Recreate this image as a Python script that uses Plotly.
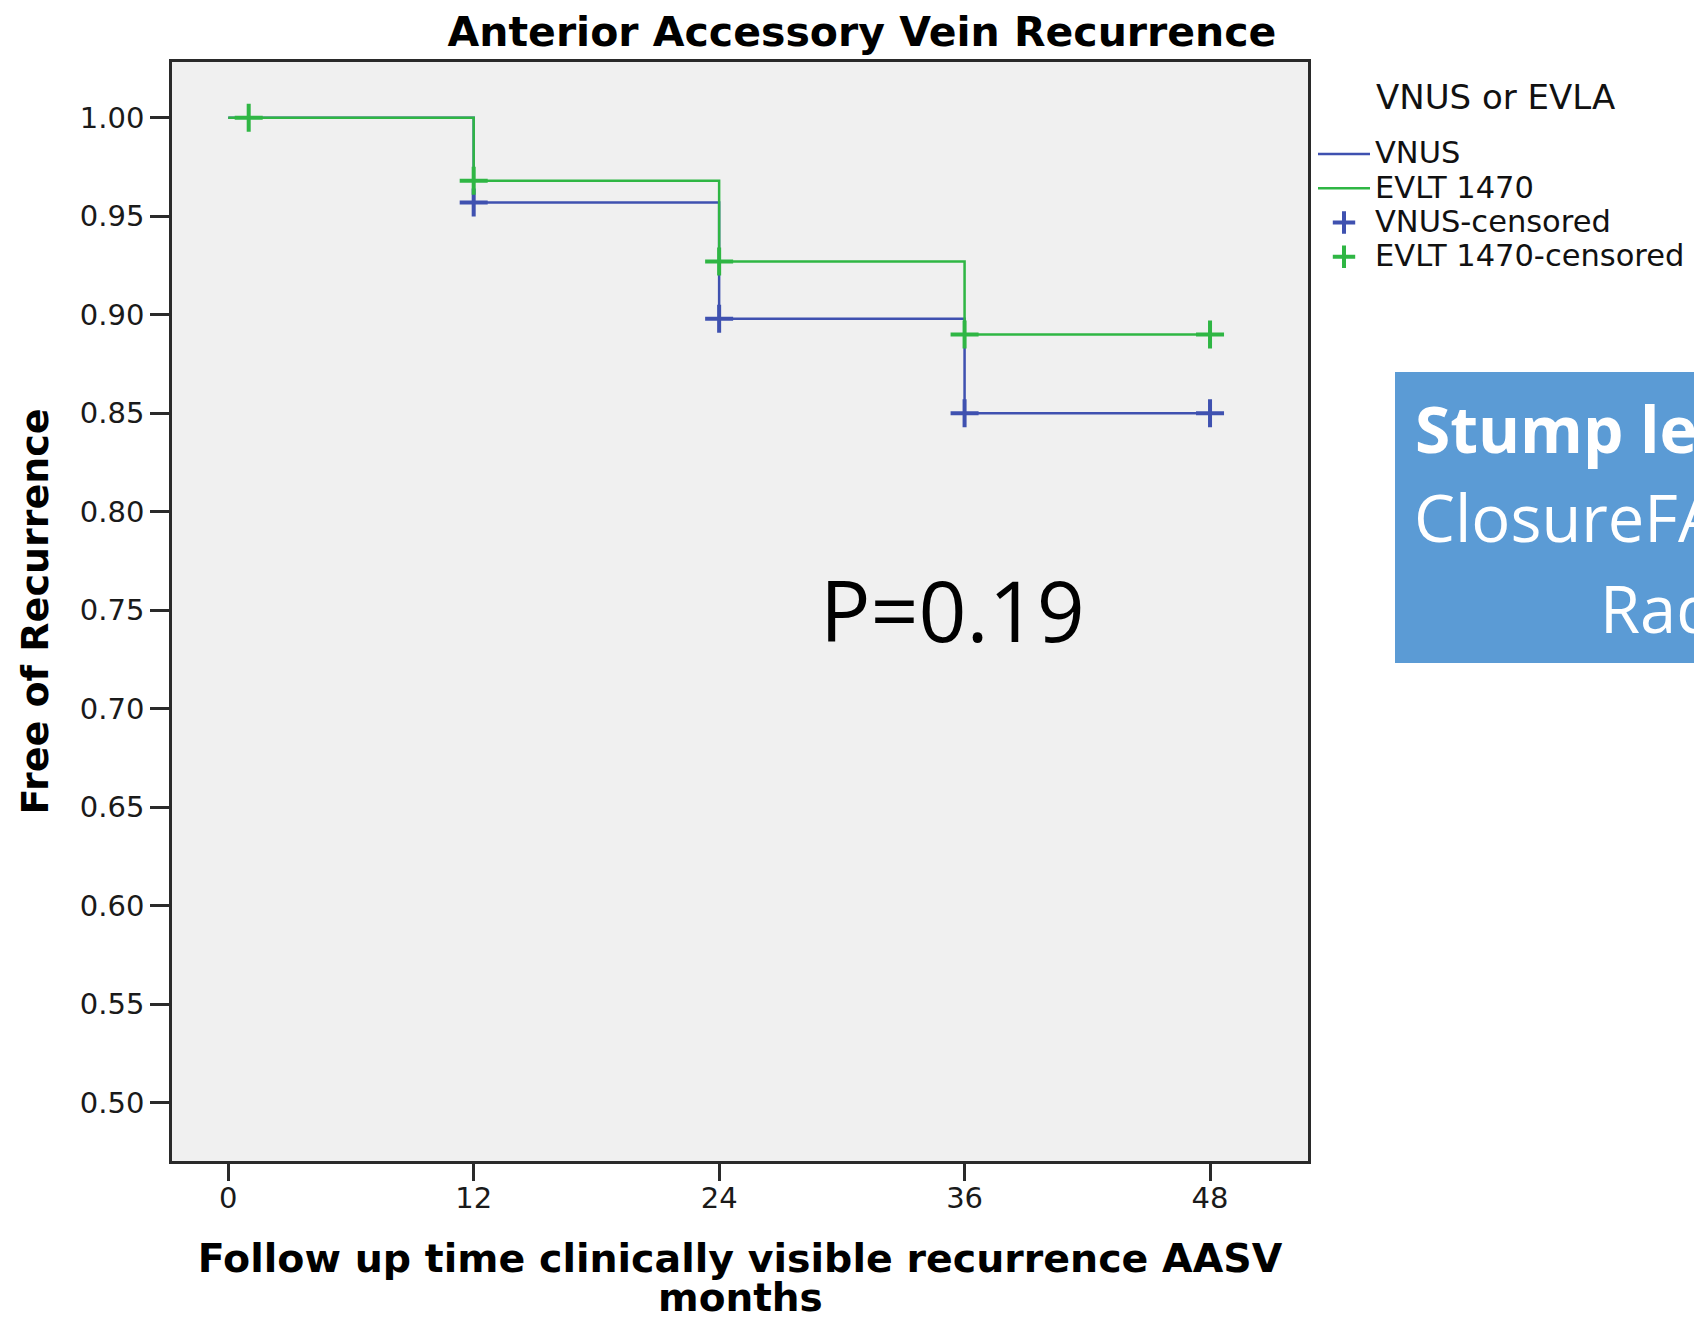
import plotly.graph_objects as go

# ---------------- data ----------------
months = [0, 12, 24, 36, 48]
vnus_surv = [1.000, 0.957, 0.898, 0.850, 0.850]
evlt_surv = [1.000, 0.968, 0.927, 0.890, 0.890]

vnus_cens_t = [12, 24, 36, 48]
vnus_cens_s = [0.957, 0.898, 0.850, 0.850]
evlt_cens_t = [1, 12, 24, 36, 48]
evlt_cens_s = [1.000, 0.968, 0.927, 0.890, 0.890]

x_ticks = [0, 12, 24, 36, 48]
y_ticks = [0.50, 0.55, 0.60, 0.65, 0.70, 0.75, 0.80, 0.85, 0.90, 0.95, 1.00]

series_names = ["VNUS", "EVLT 1470", "VNUS-censored", "EVLT 1470-censored"]
legend_title = "VNUS or EVLA"

# ---------------- layout geometry ----------------
W, H = 1694, 1318
L, R, T, B = 172, 386, 62, 157
PW, PH = W - L - R, H - T - B


def px(xp):
    return (xp - L) / PW


def py(yp):
    return 1 - (yp - T) / PH


def leg(name):
    return f"<span style='font-size:30.5px'>{name}</span>"


BLUE = "#3f51b0"
GREEN = "#2fb644"
TICKFONT = dict(family="DejaVu Sans", size=29, color="#1a1a1a")

fig = go.Figure()
fig.add_trace(go.Scatter(x=months, y=vnus_surv, mode="lines", name=leg(series_names[0]),
                         line=dict(color=BLUE, width=2.5, shape="hv")))
fig.add_trace(go.Scatter(x=months, y=evlt_surv, mode="lines", name=leg(series_names[1]),
                         line=dict(color=GREEN, width=2.5, shape="hv")))
fig.add_trace(go.Scatter(x=vnus_cens_t, y=vnus_cens_s, mode="markers", name=leg(series_names[2]),
                         marker=dict(symbol="cross-thin", size=20,
                                     line=dict(color=BLUE, width=4))))
fig.add_trace(go.Scatter(x=evlt_cens_t, y=evlt_cens_s, mode="markers", name=leg(series_names[3]),
                         marker=dict(symbol="cross-thin", size=20,
                                     line=dict(color=GREEN, width=4))))

annotations = [
    dict(text="P=0.19", xref="paper", yref="paper", x=px(818), y=py(609),
         xanchor="left", yanchor="middle", showarrow=False,
         font=dict(family="Open Sans", size=84, color="#000000")),
    dict(text="<b>Stump length</b>", xref="paper", yref="paper", x=px(1413), y=py(428),
         xanchor="left", yanchor="middle", showarrow=False,
         font=dict(family="Open Sans", size=64, color="#ffffff")),
    dict(text="ClosureFAST vs", xref="paper", yref="paper", x=px(1412), y=py(517),
         xanchor="left", yanchor="middle", showarrow=False,
         font=dict(family="Open Sans", size=65, color="#ffffff")),
    dict(text="Radiofrequency", xref="paper", yref="paper", x=px(1598), y=py(608),
         xanchor="left", yanchor="middle", showarrow=False,
         font=dict(family="Open Sans", size=65, color="#ffffff")),
    dict(text="<b>months</b>", xref="paper", yref="paper", x=0.5, y=py(1297),
         xanchor="center", yanchor="middle", showarrow=False,
         font=dict(family="DejaVu Sans", size=39, color="#000000")),
    dict(text=legend_title, xref="paper", yref="paper", x=px(1374), y=py(97),
         xanchor="left", yanchor="middle", showarrow=False,
         font=dict(family="DejaVu Sans", size=34, color="#111111")),
]

fig.update_layout(
    width=W, height=H,
    margin=dict(l=L, r=R, t=T, b=B, autoexpand=False),
    paper_bgcolor="#ffffff",
    plot_bgcolor="#f0f0f0",
    title=dict(text="<b>Anterior Accessory Vein Recurrence</b>", x=862 / W, y=1 - 32 / H,
               xanchor="center", yanchor="middle",
               font=dict(family="DejaVu Sans", size=41, color="#000000")),
    xaxis=dict(range=[-2.75, 52.79], tickvals=x_ticks, ticktext=[str(v) for v in x_ticks],
               showgrid=False, zeroline=False, showline=True, linecolor="#2a2a2a", linewidth=2.5,
               mirror=True, ticks="outside", ticklen=17, tickwidth=2.5, tickcolor="#2a2a2a",
               tickfont=TICKFONT, ticklabelstandoff=-8,
               title=dict(text="<b>Follow up time clinically visible recurrence AASV</b>",
                          font=dict(family="DejaVu Sans", size=39.5, color="#000000"), standoff=31)),
    yaxis=dict(range=[0.4704, 1.0283], tickvals=y_ticks, ticktext=[f"{v:.2f}" for v in y_ticks],
               showgrid=False, zeroline=False, showline=True, linecolor="#2a2a2a", linewidth=2.5,
               mirror=True, ticks="outside", ticklen=19, tickwidth=2.5, tickcolor="#2a2a2a",
               tickfont=TICKFONT,
               title=dict(text="<b>Free of Recurrence</b>",
                          font=dict(family="DejaVu Sans", size=38, color="#000000"), standoff=20)),
    legend=dict(x=px(1313), y=py(132), xanchor="left", yanchor="top", itemwidth=52,
                bgcolor="rgba(0,0,0,0)", borderwidth=0, tracegroupgap=0,
                font=dict(family="DejaVu Sans", size=24, color="#111111")),
    shapes=[dict(type="rect", xref="paper", yref="paper", x0=px(1395), x1=px(1720),
                 y0=py(663), y1=py(372), fillcolor="#5b9bd5", line=dict(width=0), layer="below")],
    annotations=annotations,
)

fig.write_html("out.html")
